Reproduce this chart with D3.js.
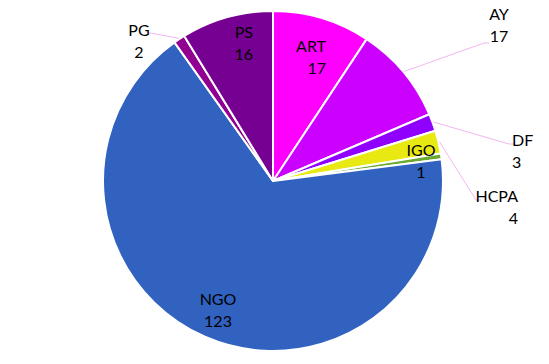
<!DOCTYPE html>
<html>
<head>
<meta charset="utf-8">
<script src="https://cdn.jsdelivr.net/npm/d3@7"></script>
<style>
  body { margin: 0; background: #fff; }
  text { font-family: Lato, "Open Sans", sans-serif; font-size: 16px; fill: #000; }
</style>
</head>
<body>
<script>
const categories = ["ART", "AY", "DF", "HCPA", "IGO", "NGO", "PG", "PS"];
const values = [17, 17, 3, 4, 1, 123, 2, 16];
const colors = ["#ff00ff", "#cc00ff", "#8f00ff", "#e8e812", "#6aaa2e", "#3162c0", "#920092", "#760092"];

// label layout: [x, y of first line, anchor, leader end point or null]
const labelLayout = {
  ART:  [326, 45, "end", null],
  AY:   [499, 13, "middle", [484, 43]],
  DF:   [512, 139, "start", [509, 144]],
  HCPA: [518, 195, "end", [476, 200]],
  IGO:  [421, 149, "middle", null],
  NGO:  [218, 298, "middle", null],
  PG:   [139, 29, "middle", [150, 33]],
  PS:   [253, 31, "end", null]
};

const w = 549, h = 364;
const cx = 273, cy = 181, r = 170;

const svg = d3.select("body").append("svg")
  .attr("width", w)
  .attr("height", h);

const data = categories.map((c, i) => ({ name: c, value: values[i], color: colors[i] }));

const pie = d3.pie().sort(null).value(d => d.value);
const arcs = pie(data);
const arc = d3.arc().innerRadius(0).outerRadius(r);
const edgeArc = d3.arc().innerRadius(r + 1).outerRadius(r + 1);

const g = svg.append("g").attr("transform", `translate(${cx},${cy})`);

g.selectAll("path")
  .data(arcs)
  .enter()
  .append("path")
  .attr("d", arc)
  .attr("fill", d => d.data.color)
  .attr("stroke", "#fff")
  .attr("stroke-width", 2)
  .attr("stroke-linejoin", "round");

// leader lines
arcs.forEach(d => {
  const lay = labelLayout[d.data.name];
  if (!lay[3]) return;
  const [sx, sy] = edgeArc.centroid(d);
  const [ex, ey] = lay[3];
  const hx = ex + (ex > cx ? 5 : -3);
  svg.append("polyline")
    .attr("points", `${cx + sx},${cy + sy} ${ex},${ey} ${hx},${ey}`)
    .attr("fill", "none")
    .attr("stroke", "#f2b6f2")
    .attr("stroke-width", 1);
});

// labels
arcs.forEach(d => {
  const [x, y, anchor] = labelLayout[d.data.name];
  const t = svg.append("text")
    .attr("text-anchor", anchor)
    .attr("dominant-baseline", "central");
  t.append("tspan").attr("x", x).attr("y", y).text(d.data.name);
  t.append("tspan").attr("x", x).attr("y", y + 22).text(d.data.value);
});
</script>
</body>
</html>
